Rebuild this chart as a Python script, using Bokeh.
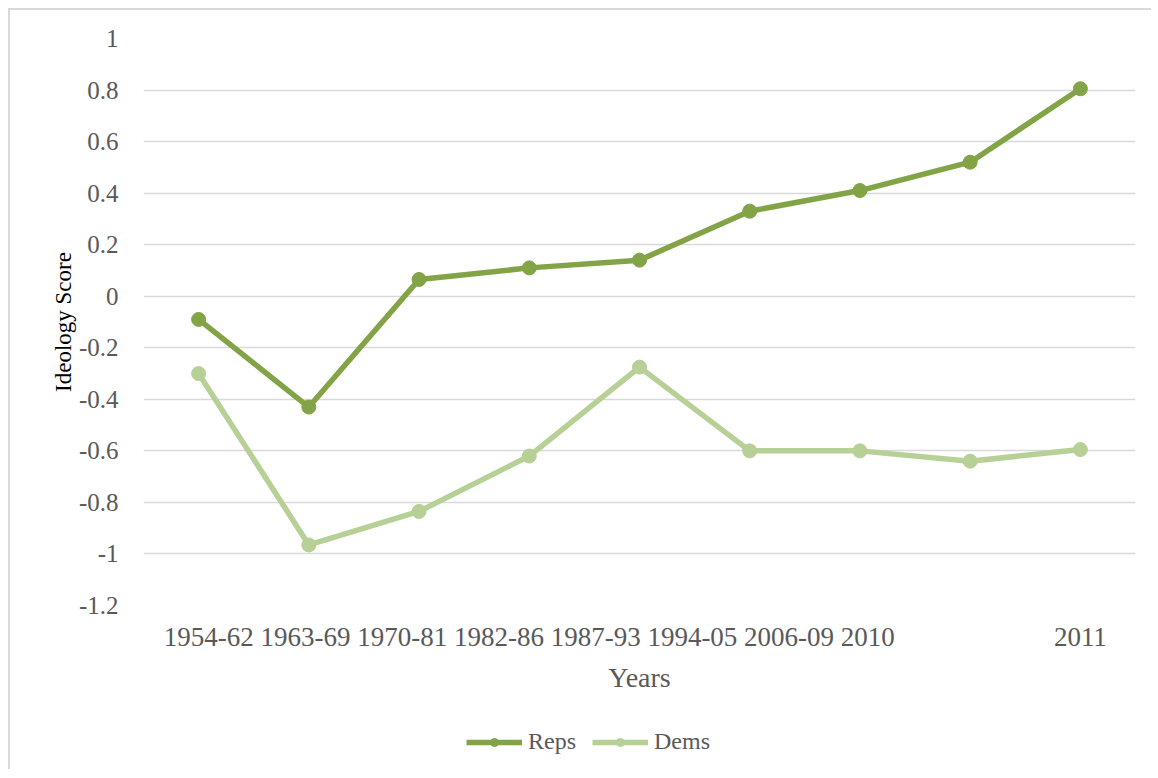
from bokeh.plotting import figure
from bokeh.layouts import column
from bokeh.models import FixedTicker, Legend, LegendItem, Range1d, ColumnDataSource
from bokeh.embed import file_html
from bokeh.resources import INLINE

periods = ["1954-62", "1963-69", "1970-81", "1982-86", "1987-93", "1994-05", "2006-09", "2010", "2011"]
reps = [-0.09, -0.43, 0.065, 0.11, 0.14, 0.33, 0.41, 0.52, 0.805]
dems = [-0.30, -0.965, -0.835, -0.62, -0.275, -0.60, -0.60, -0.64, -0.595]
y_ticks = [-1.2, -1.0, -0.8, -0.6, -0.4, -0.2, 0.0, 0.2, 0.4, 0.6, 0.8, 1.0]
y_tick_labels = ["-1.2", "-1", "-0.8", "-0.6", "-0.4", "-0.2", "0", "0.2", "0.4", "0.6", "0.8", "1"]

REP_COLOR = "#82a447"
DEM_COLOR = "#b6d096"
TEXT = "#595959"
GRID = "#d9d9d9"
SERIF = "Liberation Serif"

xs = list(range(1, len(periods) + 1))
src = ColumnDataSource(dict(x=xs, reps=reps, dems=dems))

p = figure(frame_width=990, frame_height=565, output_backend="svg", toolbar_location=None,
           x_range=Range1d(0.5, len(periods) + 0.5), y_range=Range1d(-1.2, 1.0),
           min_border_left=133, min_border_right=18, min_border_top=28, min_border_bottom=100)
p.styles = {"border-top": "2px solid #d9d9d9", "border-left": "2px solid #d9d9d9",
            "margin-top": "8px", "margin-left": "8px"}
p.outline_line_color = None
p.background_fill_color = "white"

r_line = p.line("x", "reps", source=src, line_color=REP_COLOR, line_width=5.5)
r_pts = p.scatter("x", "reps", source=src, size=14, fill_color=REP_COLOR, line_color=REP_COLOR)
d_line = p.line("x", "dems", source=src, line_color=DEM_COLOR, line_width=5.5)
d_pts = p.scatter("x", "dems", source=src, size=14, fill_color=DEM_COLOR, line_color=DEM_COLOR)

# x axis
p.xaxis.ticker = FixedTicker(ticks=xs)
overrides = {x: "" for x in xs}
overrides[4] = " ".join(periods[:8])
overrides[9] = periods[8]
p.xaxis.major_label_overrides = overrides
p.xaxis.axis_label = "Years"
p.xaxis.major_label_standoff = 10
p.xaxis.axis_label_standoff = 7

# y axis
p.yaxis.ticker = FixedTicker(ticks=y_ticks)
p.yaxis.major_label_overrides = {v: s for v, s in zip(y_ticks, y_tick_labels)}
p.yaxis.axis_label = "Ideology Score"
p.yaxis.major_label_standoff = 19
p.yaxis.axis_label_standoff = 0

for ax in (p.xaxis, p.yaxis):
    ax.axis_line_color = None
    ax.major_tick_line_color = None
    ax.minor_tick_line_color = None
    ax.major_label_text_font = SERIF
    ax.major_label_text_font_size = "25px"
    ax.major_label_text_color = TEXT
    ax.axis_label_text_font = SERIF
    ax.axis_label_text_font_style = "normal"
    ax.axis_label_text_color = TEXT

p.xaxis.major_label_text_font_size = "27px"
p.xaxis.axis_label_text_font_size = "28px"
p.yaxis.axis_label_text_font_size = "23px"
p.yaxis.axis_label_text_color = "black"

p.xgrid.grid_line_color = None
p.ygrid.grid_line_color = GRID
p.ygrid.grid_line_width = 1.5

# legend strip below the chart (its glyph sources lie outside the visible range)
lg = figure(frame_width=990, frame_height=66, output_backend="svg", toolbar_location=None,
            x_range=Range1d(0, 1), y_range=Range1d(0, 1),
            x_axis_location=None, y_axis_location=None,
            min_border_left=133, min_border_right=18, min_border_top=0, min_border_bottom=0)
lg.styles = {"border-left": "2px solid #d9d9d9", "margin-left": "8px"}
lg.outline_line_color = None
lg.grid.grid_line_color = None
hidden = ColumnDataSource(dict(x=[-10, -9], y=[-10, -10]))
lr_line = lg.line("x", "y", source=hidden, line_color=REP_COLOR, line_width=5.5)
lr_pts = lg.scatter("x", "y", source=hidden, size=14, fill_color=REP_COLOR, line_color=REP_COLOR)
ld_line = lg.line("x", "y", source=hidden, line_color=DEM_COLOR, line_width=5.5)
ld_pts = lg.scatter("x", "y", source=hidden, size=14, fill_color=DEM_COLOR, line_color=DEM_COLOR)

legend = Legend(items=[LegendItem(label="Reps", renderers=[lr_line, lr_pts], index=0),
                       LegendItem(label="Dems", renderers=[ld_line, ld_pts], index=0)],
                orientation="horizontal", location=(323, 14))
legend.label_text_font = SERIF
legend.label_text_font_size = "24px"
legend.label_text_color = TEXT
legend.glyph_width = 56
legend.glyph_height = 20
legend.label_height = 20
legend.spacing = 16
legend.label_standoff = 6
legend.padding = 0
legend.margin = 0
legend.border_line_color = None
legend.background_fill_alpha = 0
lg.add_layout(legend, "center")

layout = column(p, lg, spacing=0)
open("out.html", "w").write(file_html(layout, INLINE))
